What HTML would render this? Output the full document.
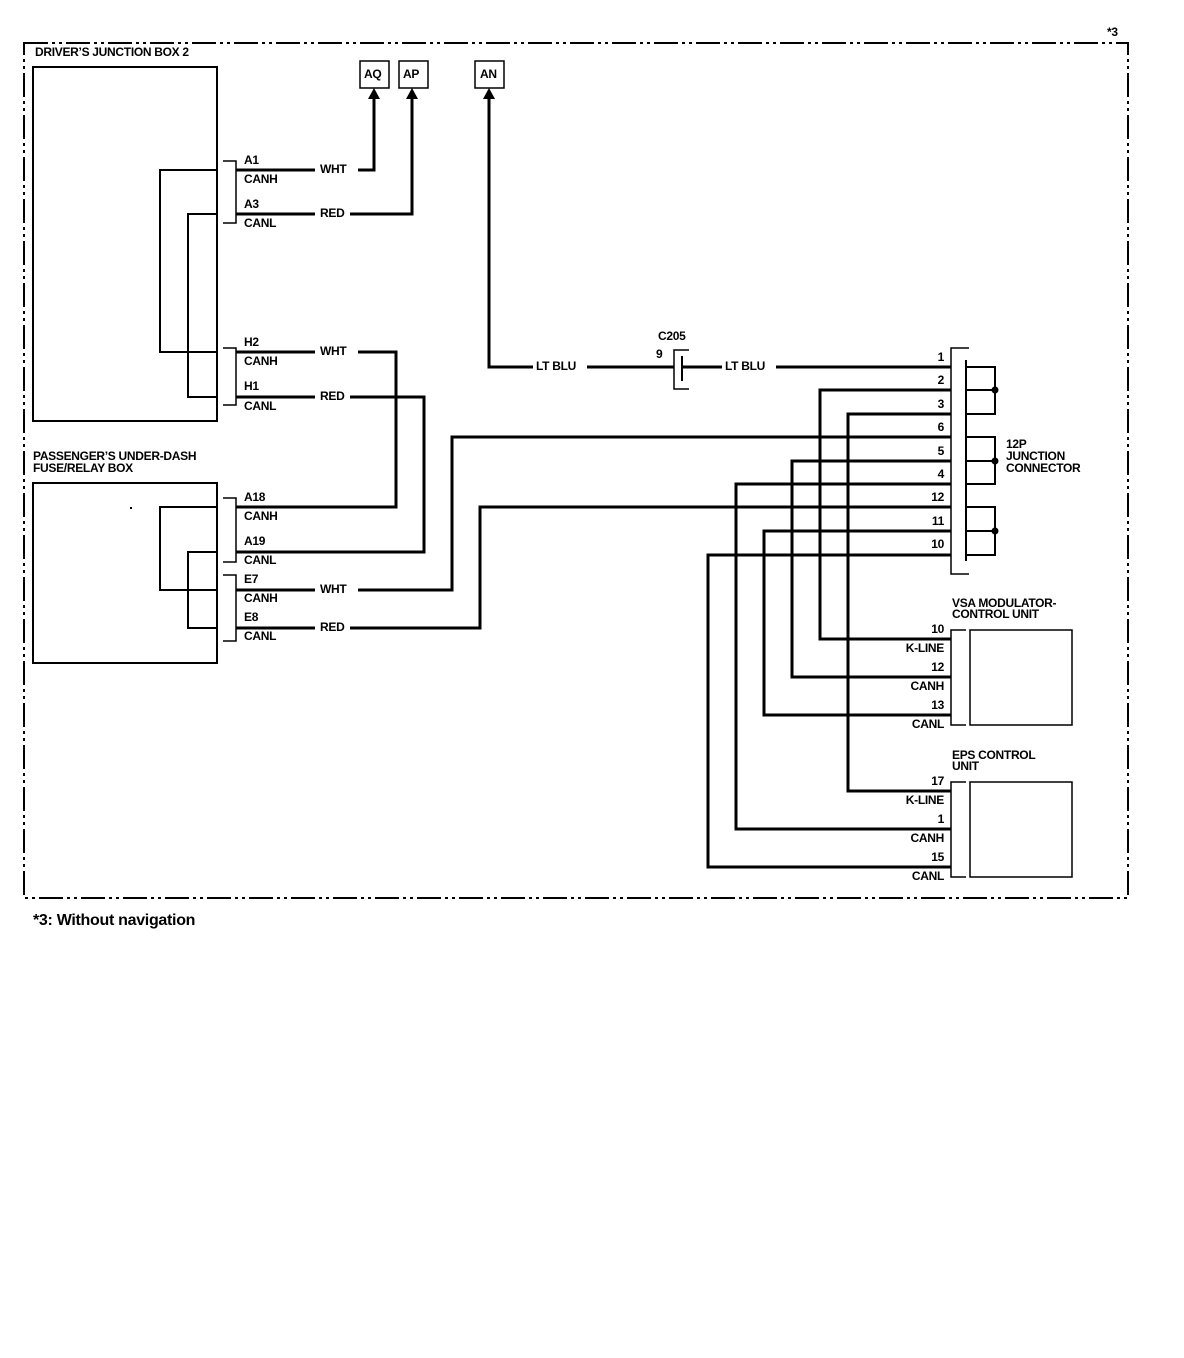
<!DOCTYPE html>
<html><head><meta charset="utf-8"><style>
html,body{margin:0;padding:0;background:#fff;}
svg{display:block;}
text{font-family:"Liberation Sans",Arial,sans-serif;font-weight:bold;font-size:12px;fill:#000;letter-spacing:-0.3px;}
</style></head><body>
<svg width="1184" height="1358" viewBox="0 0 1184 1358" xmlns="http://www.w3.org/2000/svg">
<!-- dashed border -->
<rect x="24" y="43" width="1104" height="855" fill="none" stroke="#000" stroke-width="2" stroke-dasharray="24 4 3 4 3 4"/>
<text x="1107" y="36">*3</text>
<text x="33" y="925" style="font-size:16px">*3: Without navigation</text>

<g fill="none" stroke="#000">
<!-- Driver's junction box -->
<rect x="33" y="67" width="184" height="354" stroke-width="2"/>
<polyline points="217,170 160,170 160,352 217,352" stroke-width="2"/>
<polyline points="217,214 188,214 188,397 217,397" stroke-width="2"/>
<polyline points="223,161 236,161 236,223 223,223" stroke-width="1.5"/>
<polyline points="223,348 236,348 236,405 223,405" stroke-width="1.5"/>

<!-- Passenger box -->
<rect x="33" y="483" width="184" height="180" stroke-width="2"/>
<polyline points="217,507 160,507 160,590 217,590" stroke-width="2"/>
<polyline points="217,552 188,552 188,628 217,628" stroke-width="2"/>
<polyline points="223,498 236,498 236,562 223,562" stroke-width="1.5"/>
<polyline points="223,575 236,575 236,641 223,641" stroke-width="1.5"/>

<!-- AQ AP AN boxes -->
<rect x="360" y="61" width="29" height="27" stroke-width="1.5"/>
<rect x="399" y="61" width="29" height="27" stroke-width="1.5"/>
<rect x="475" y="61" width="29" height="27" stroke-width="1.5"/>

<!-- wires -->
<g stroke-width="3">
<line x1="236" y1="170" x2="315" y2="170"/>
<polyline points="358,170 374,170 374,98"/>
<line x1="236" y1="214" x2="315" y2="214"/>
<polyline points="350,214 412,214 412,98"/>
<line x1="236" y1="352" x2="315" y2="352"/>
<polyline points="358,352 396,352 396,507 236,507"/>
<line x1="236" y1="397" x2="315" y2="397"/>
<polyline points="350,397 424,397 424,552 236,552"/>
<line x1="236" y1="590" x2="315" y2="590"/>
<polyline points="358,590 452,590 452,437 951,437"/>
<line x1="236" y1="628" x2="315" y2="628"/>
<polyline points="350,628 480,628 480,507 951,507"/>
<polyline points="489,98 489,367 533,367"/>
<line x1="587" y1="367" x2="674" y2="367"/>
<line x1="682" y1="367" x2="722" y2="367"/>
<line x1="776" y1="367" x2="951" y2="367"/>
<polyline points="951,390 820,390 820,639 951,639"/>
<polyline points="951,414 848,414 848,791 951,791"/>
<polyline points="951,461 792,461 792,677 951,677"/>
<polyline points="951,484 736,484 736,829 951,829"/>
<polyline points="951,531 764,531 764,715 951,715"/>
<polyline points="951,555 708,555 708,867 951,867"/>
</g>

<!-- C205 -->
<polyline points="689,350 674,350 674,389 689,389" stroke-width="1.5"/>
<line x1="682" y1="356" x2="682" y2="381" stroke-width="2"/>

<!-- 12P junction connector -->
<polyline points="969,348 951,348 951,574 969,574" stroke-width="1.5"/>
<line x1="966" y1="360" x2="966" y2="561" stroke-width="2"/>
<g stroke-width="2">
<polyline points="966,367 995,367 995,414 966,414"/><line x1="966" y1="390" x2="995" y2="390"/>
<polyline points="966,437 995,437 995,484 966,484"/><line x1="966" y1="461" x2="995" y2="461"/>
<polyline points="966,507 995,507 995,555 966,555"/><line x1="966" y1="531" x2="995" y2="531"/>
</g>

<!-- VSA / EPS -->
<polyline points="966,630 951,630 951,725 966,725" stroke-width="1.5"/>
<rect x="970" y="630" width="102" height="95" stroke-width="1.5"/>
<polyline points="966,782 951,782 951,877 966,877" stroke-width="1.5"/>
<rect x="970" y="782" width="102" height="95" stroke-width="1.5"/>
</g>

<!-- arrowheads & dots -->
<g fill="#000">
<polygon points="374,88 368,99 380,99"/>
<polygon points="412,88 406,99 418,99"/>
<polygon points="489,88 483,99 495,99"/>
<circle cx="374" cy="170" r="1.5"/>
<circle cx="995" cy="390" r="3.5"/>
<circle cx="995" cy="461" r="3.5"/>
<circle cx="995" cy="531" r="3.5"/>
<rect x="130" y="507" width="2" height="2"/>
</g>

<!-- labels -->
<text x="35" y="56">DRIVER’S JUNCTION BOX 2</text>
<text x="364" y="78">AQ</text><text x="403" y="78">AP</text><text x="480" y="78">AN</text>
<text x="244" y="164">A1</text><text x="244" y="183">CANH</text>
<text x="244" y="208">A3</text><text x="244" y="227">CANL</text>
<text x="320" y="173">WHT</text><text x="320" y="217">RED</text>
<text x="244" y="346">H2</text><text x="244" y="365">CANH</text>
<text x="244" y="390">H1</text><text x="244" y="410">CANL</text>
<text x="320" y="355">WHT</text><text x="320" y="400">RED</text>
<text x="33" y="460">PASSENGER’S UNDER-DASH</text>
<text x="33" y="472">FUSE/RELAY BOX</text>
<text x="244" y="501">A18</text><text x="244" y="520">CANH</text>
<text x="244" y="545">A19</text><text x="244" y="564">CANL</text>
<text x="244" y="583">E7</text><text x="244" y="602">CANH</text>
<text x="244" y="621">E8</text><text x="244" y="640">CANL</text>
<text x="320" y="593">WHT</text><text x="320" y="631">RED</text>
<text x="536" y="370">LT BLU</text><text x="725" y="370">LT BLU</text>
<text x="658" y="340">C205</text><text x="656" y="358">9</text>
<g text-anchor="end">
<text x="944" y="361">1</text><text x="944" y="384">2</text><text x="944" y="408">3</text>
<text x="944" y="431">6</text><text x="944" y="455">5</text><text x="944" y="478">4</text>
<text x="944" y="501">12</text><text x="944" y="525">11</text><text x="944" y="548">10</text>
<text x="944" y="633">10</text><text x="944" y="652">K-LINE</text>
<text x="944" y="671">12</text><text x="944" y="690">CANH</text>
<text x="944" y="709">13</text><text x="944" y="728">CANL</text>
<text x="944" y="785">17</text><text x="944" y="804">K-LINE</text>
<text x="944" y="823">1</text><text x="944" y="842">CANH</text>
<text x="944" y="861">15</text><text x="944" y="880">CANL</text>
</g>
<text x="1006" y="448">12P</text><text x="1006" y="460">JUNCTION</text><text x="1006" y="472">CONNECTOR</text>
<text x="952" y="607">VSA MODULATOR-</text><text x="952" y="618">CONTROL UNIT</text>
<text x="952" y="759">EPS CONTROL</text><text x="952" y="770">UNIT</text>
</svg>
</body></html>
